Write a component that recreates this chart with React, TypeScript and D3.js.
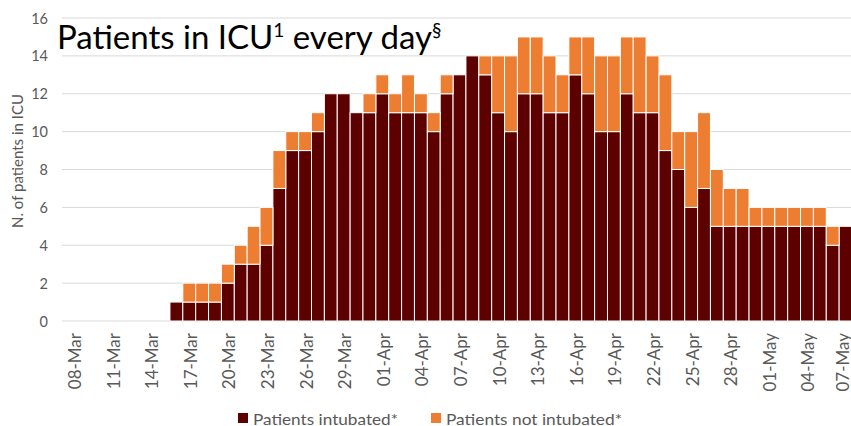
import React from "react";
import * as d3 from "d3";

// one entry per day, 08-Mar .. 07-May
const days = [
  "08-Mar", "09-Mar", "10-Mar", "11-Mar", "12-Mar", "13-Mar", "14-Mar", "15-Mar",
  "16-Mar", "17-Mar", "18-Mar", "19-Mar", "20-Mar", "21-Mar", "22-Mar", "23-Mar",
  "24-Mar", "25-Mar", "26-Mar", "27-Mar", "28-Mar", "29-Mar", "30-Mar", "31-Mar",
  "01-Apr", "02-Apr", "03-Apr", "04-Apr", "05-Apr", "06-Apr", "07-Apr", "08-Apr",
  "09-Apr", "10-Apr", "11-Apr", "12-Apr", "13-Apr", "14-Apr", "15-Apr", "16-Apr",
  "17-Apr", "18-Apr", "19-Apr", "20-Apr", "21-Apr", "22-Apr", "23-Apr", "24-Apr",
  "25-Apr", "26-Apr", "27-Apr", "28-Apr", "29-Apr", "30-Apr", "01-May", "02-May",
  "03-May", "04-May", "05-May", "06-May", "07-May",
];

const intubated = [
  0, 0, 0, 0, 0, 0, 0, 0,
  1, 1, 1, 1, 2, 3, 3, 4,
  7, 9, 9, 10, 12, 12, 11, 11,
  12, 11, 11, 11, 10, 12, 13, 14,
  13, 11, 10, 12, 12, 11, 11, 13,
  12, 10, 10, 12, 11, 11, 9, 8,
  6, 7, 5, 5, 5, 5, 5, 5,
  5, 5, 5, 4, 5,
];

const notIntubated = [
  0, 0, 0, 0, 0, 0, 0, 0,
  0, 1, 1, 1, 1, 1, 2, 2,
  2, 1, 1, 1, 0, 0, 0, 1,
  1, 1, 2, 1, 1, 1, 0, 0,
  1, 3, 4, 3, 3, 3, 2, 2,
  3, 4, 4, 3, 4, 3, 4, 2,
  4, 4, 3, 2, 2, 1, 1, 1,
  1, 1, 1, 1, 0,
];

const yTicks = [0, 2, 4, 6, 8, 10, 12, 14, 16];
const seriesNames = ["Patients intubated*", "Patients not intubated*"];

const W = 851;
const H = 426;
const DARK = "#5c0000";
const ORANGE = "#ed7d31";
const GREY = "#595959";
const FONT = "Lato, 'Open Sans', sans-serif";

export default function App() {
  const x = d3.scaleBand<string>().domain(days).range([67, 852]).paddingInner(0);
  const y = d3.scaleLinear().domain([0, 16]).range([321, 18]);

  const rows = days.map((d, i) => ({ day: d, a: intubated[i], b: notIntubated[i] }));
  const stacked = d3.stack<any>().keys(["a", "b"])(rows);
  const colors = [DARK, ORANGE];

  const labelDays = days.filter((_, i) => i % 3 === 0);

  return (
    <svg width={W} height={H} style={{ position: "absolute", left: 0, top: 0 }} fontFamily={FONT}>
      <rect width={W} height={H} fill="#fff" />
      {yTicks.map((t) => (
        <g key={t}>
          <line x1={62} x2={852} y1={y(t)} y2={y(t)} stroke="#d9d9d9" strokeWidth={1} />
          <text x={48} y={y(t)} textAnchor="end" dominantBaseline="central" fontSize={14.5} fill={GREY}>
            {t}
          </text>
        </g>
      ))}
      <text
        transform={`translate(17,161) rotate(-90)`}
        textAnchor="middle"
        dominantBaseline="central"
        fontSize={15}
        fill={GREY}
      >
        N. of patients in ICU
      </text>

      {stacked.map((s, si) => (
        <g key={si} fill={colors[si]}>
          {s.map((d: any, i: number) =>
            d[1] - d[0] > 0 ? (
              <rect
                key={i}
                x={x(d.data.day)!}
                width={x.bandwidth()}
                y={y(d[1])}
                height={y(d[0]) - y(d[1])}
                stroke="#fff"
                strokeWidth={1}
              />
            ) : null
          )}
        </g>
      ))}

      {labelDays.map((d, i) => (
        <text
          key={d}
          transform={`translate(${Math.min(x(d)! + x.bandwidth() / 2 + 1, 842)},333) rotate(-90)`}
          textAnchor="end"
          dominantBaseline="central"
          fontSize={17}
          fill={GREY}
        >
          {d}
        </text>
      ))}

      <text x={57} y={49} fontSize={33} fill="#000">
        Patients in ICU
        <tspan fontSize={19} dy={-12}>1</tspan>
        <tspan fontSize={33} dy={12}> every day</tspan>
        <tspan fontSize={19} dy={-12}>§</tspan>
      </text>

      <g fontSize={16} fill={GREY}>
        <rect x={238} y={413} width={10} height={10} fill={DARK} />
        <text x={253} y={418} dominantBaseline="central" textLength={145} lengthAdjust="spacingAndGlyphs">
          {seriesNames[0]}
        </text>
        <rect x={431} y={413} width={10} height={10} fill={ORANGE} />
        <text x={446} y={418} dominantBaseline="central" textLength={176} lengthAdjust="spacingAndGlyphs">
          {seriesNames[1]}
        </text>
      </g>
    </svg>
  );
}
